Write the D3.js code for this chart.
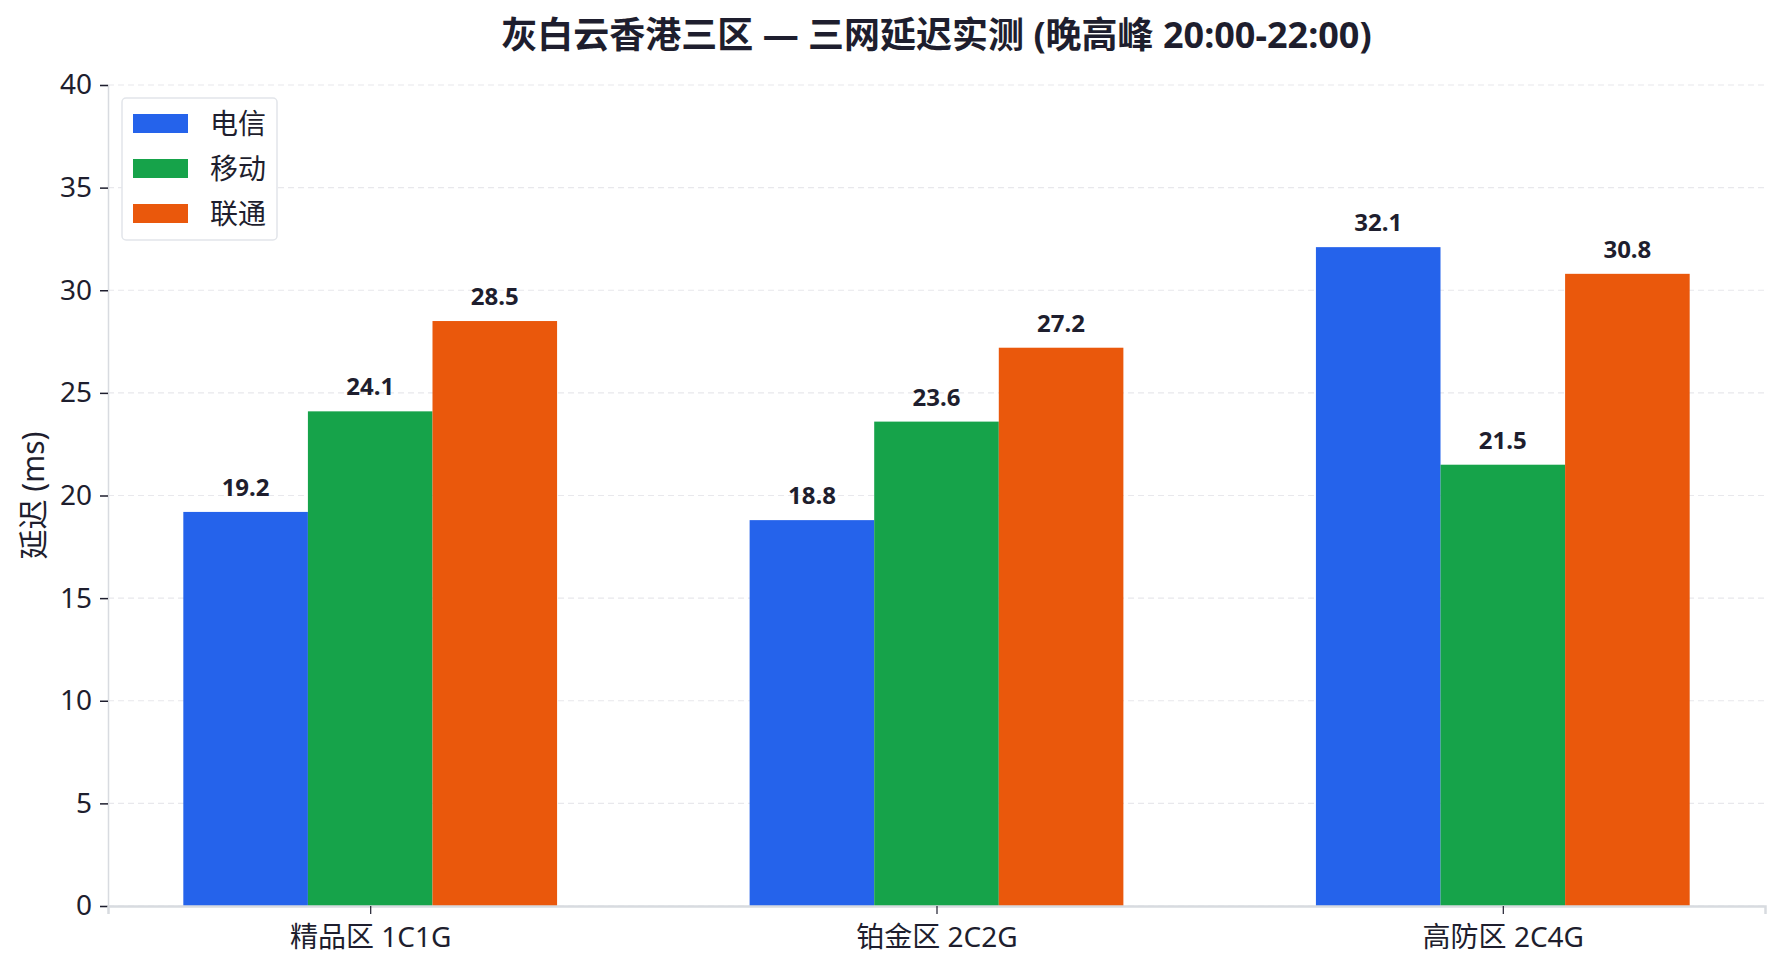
<!DOCTYPE html>
<html>
<head>
<meta charset="utf-8">
<script src="https://cdn.jsdelivr.net/npm/d3@7"></script>
<style>
  body { margin: 0; background: #fff; }
  text { font-family: "Noto Sans", "Noto Sans CJK SC", sans-serif; fill: #1e1e2e; }
</style>
</head>
<body>
<div id="chart"></div>
<script>
// data
var categories = ["精品区 1C1G", "铂金区 2C2G", "高防区 2C4G"];
var seriesNames = ["电信", "移动", "联通"];
var telecom = [19.2, 18.8, 32.1];
var mobile = [24.1, 23.6, 21.5];
var unicom = [28.5, 27.2, 30.8];
var seriesValues = [telecom, mobile, unicom];
var yTicks = [0, 5, 10, 15, 20, 25, 30, 35, 40];
var colors = ["#2563eb", "#16a34a", "#ea580c"];

var svgWidth = 1783;
var svgHeight = 973;
var margin = { top: 85, right: 18, bottom: 67, left: 108 };
var chartWidth = svgWidth - margin.left - margin.right;
var chartHeight = svgHeight - margin.top - margin.bottom;

var svg = d3.select("#chart")
  .append("svg")
  .attr("width", svgWidth)
  .attr("height", svgHeight);

var chartGroup = svg.append("g")
  .attr("transform", `translate(${margin.left}, ${margin.top})`);

// scales
var xScale = d3.scalePoint()
  .domain(categories)
  .range([0, chartWidth])
  .padding(0.463);
var step = xScale.step();

var xSub = d3.scaleBand()
  .domain(seriesNames)
  .range([-0.33 * step, 0.33 * step]);

var yScale = d3.scaleLinear()
  .domain([0, 40])
  .range([chartHeight, 0]);

// gridlines
chartGroup.append("g")
  .selectAll("line")
  .data(yTicks)
  .enter()
  .append("line")
  .attr("x1", 0)
  .attr("x2", chartWidth)
  .attr("y1", d => yScale(d))
  .attr("y2", d => yScale(d))
  .attr("stroke", "#e8e8ec")
  .attr("stroke-width", 1.2)
  .attr("stroke-dasharray", "6,4");

// bars
var rows = [];
categories.forEach(function(c, i) {
  seriesNames.forEach(function(s, j) {
    rows.push({ cat: c, series: s, value: seriesValues[j][i], color: colors[j] });
  });
});

chartGroup.selectAll("rect.bar")
  .data(rows)
  .enter()
  .append("rect")
  .attr("class", "bar")
  .attr("x", d => xScale(d.cat) + xSub(d.series))
  .attr("y", d => yScale(d.value))
  .attr("width", xSub.bandwidth())
  .attr("height", d => chartHeight - yScale(d.value))
  .attr("fill", d => d.color);

// value labels
chartGroup.selectAll("text.val")
  .data(rows)
  .enter()
  .append("text")
  .attr("class", "val")
  .attr("x", d => xScale(d.cat) + xSub(d.series) + xSub.bandwidth() / 2)
  .attr("y", d => yScale(d.value) - 16)
  .attr("text-anchor", "middle")
  .attr("font-size", 24)
  .attr("font-weight", "bold")
  .text(d => d.value.toFixed(1));

// axes
var leftAxis = d3.axisLeft(yScale).tickValues(yTicks).tickSize(8).tickPadding(8);
var bottomAxis = d3.axisBottom(xScale).tickSize(8).tickPadding(13);

var yAxisG = chartGroup.append("g").call(leftAxis);
yAxisG.select(".domain").attr("stroke", "#d8dbe0").attr("stroke-width", 1.5);
yAxisG.selectAll(".tick line").attr("stroke", "#1e1e2e").attr("stroke-width", 1.5);
yAxisG.selectAll(".tick text").attr("font-size", 28).attr("fill", "#1e1e2e");

var xAxisG = chartGroup.append("g")
  .attr("transform", `translate(0, ${chartHeight})`)
  .call(bottomAxis);
xAxisG.select(".domain").attr("stroke", "#d8dbe0").attr("stroke-width", 2.5);
xAxisG.selectAll(".tick line").attr("stroke", "#1e1e2e").attr("stroke-width", 1.2);
xAxisG.selectAll(".tick text").attr("font-size", 28).attr("fill", "#1e1e2e");

// y label
chartGroup.append("text")
  .attr("transform", "rotate(-90)")
  .attr("x", -chartHeight / 2)
  .attr("y", -margin.left + 33)
  .attr("dy", "0.35em")
  .attr("text-anchor", "middle")
  .attr("font-size", 30)
  .text("延迟 (ms)");

// title
svg.append("text")
  .attr("x", margin.left + chartWidth / 2)
  .attr("y", 48)
  .attr("text-anchor", "middle")
  .attr("font-size", 36)
  .attr("font-weight", "bold")
  .text("灰白云香港三区 — 三网延迟实测 (晚高峰 20:00-22:00)");

// legend
var legend = svg.append("g").attr("transform", "translate(122, 98)");
legend.append("rect")
  .attr("width", 155)
  .attr("height", 142)
  .attr("rx", 4)
  .attr("fill", "#fff")
  .attr("stroke", "#e2e5ea")
  .attr("stroke-width", 1.5);

var items = legend.selectAll("g.item")
  .data(seriesNames)
  .enter()
  .append("g")
  .attr("class", "item")
  .attr("transform", (d, i) => `translate(11, ${16 + i * 45})`);
items.append("rect")
  .attr("width", 55)
  .attr("height", 19)
  .attr("fill", (d, i) => colors[i]);
items.append("text")
  .attr("x", 77)
  .attr("y", 10)
  .attr("dy", "0.35em")
  .attr("font-size", 28)
  .text(d => d);
</script>
</body>
</html>
